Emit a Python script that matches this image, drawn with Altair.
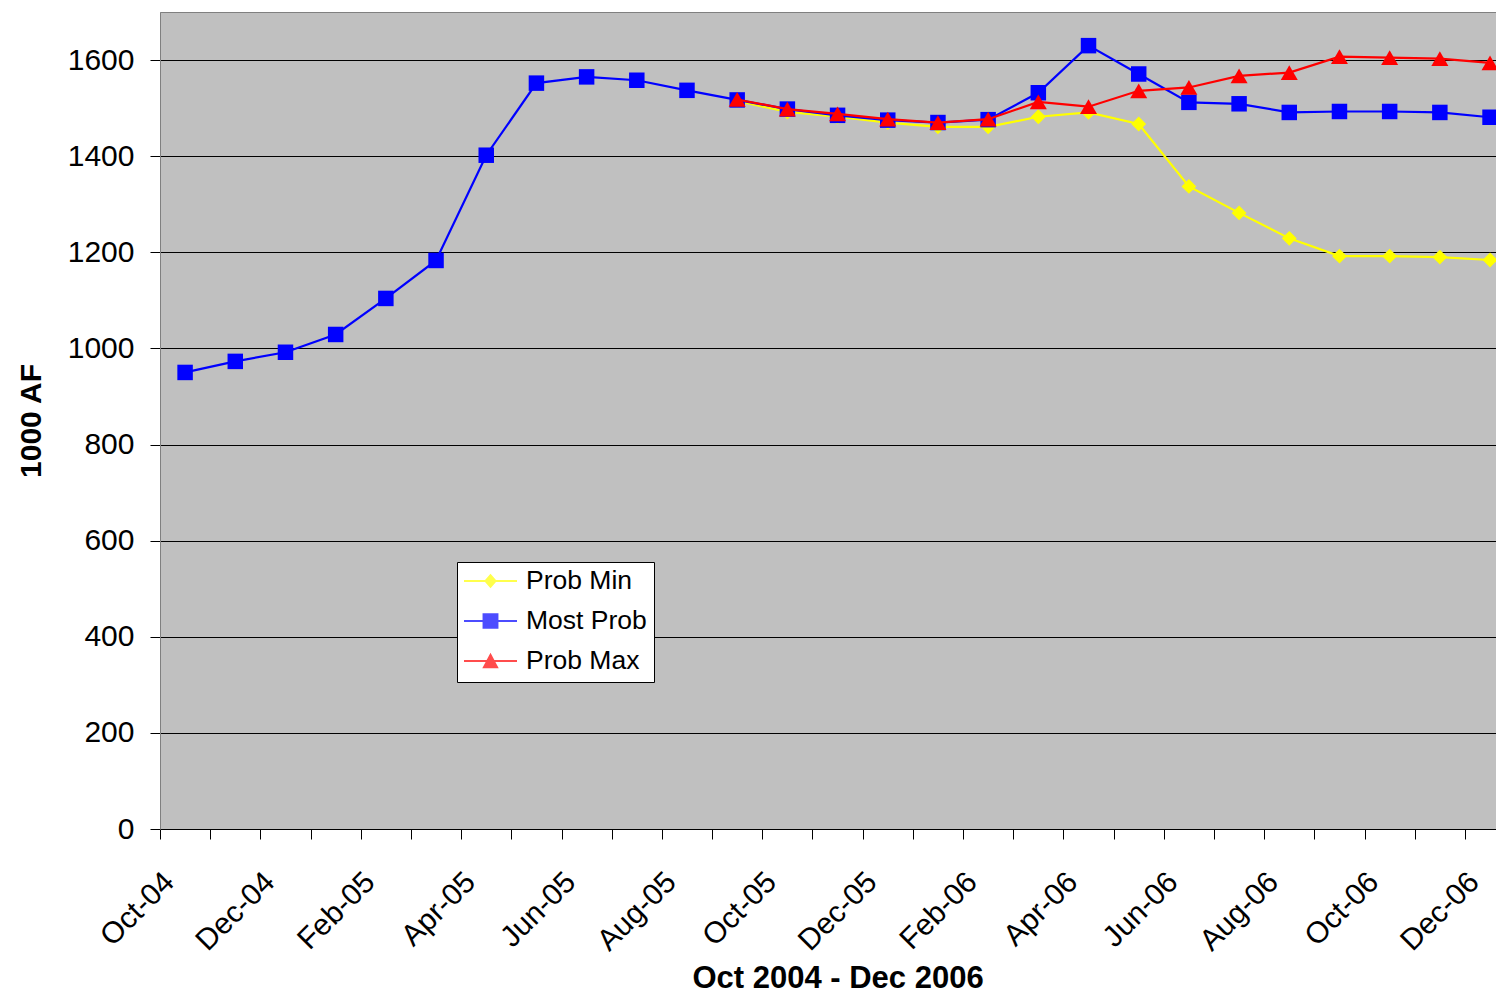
import json
import pandas as pd
import altair as alt

# months on the x axis (Oct 2004 - Dec 2006)
months = ['Oct-04', 'Nov-04', 'Dec-04', 'Jan-05', 'Feb-05', 'Mar-05', 'Apr-05',
          'May-05', 'Jun-05', 'Jul-05', 'Aug-05', 'Sep-05', 'Oct-05', 'Nov-05',
          'Dec-05', 'Jan-06', 'Feb-06', 'Mar-06', 'Apr-06', 'May-06', 'Jun-06',
          'Jul-06', 'Aug-06', 'Sep-06', 'Oct-06', 'Nov-06', 'Dec-06']

# storage, 1000 AF
most_prob = [950, 973, 992, 1029, 1104, 1183, 1402, 1552, 1565, 1558, 1537,
             1517, 1498, 1485, 1475, 1470, 1476, 1532, 1630, 1571, 1512,
             1509, 1491, 1493, 1493, 1491, 1481]
prob_min = [None] * 11 + [1515, 1492, 1482, 1470, 1461, 1461, 1482, 1491,
                          1467, 1337, 1282, 1229, 1192, 1192, 1190, 1184]
prob_max = [None] * 11 + [1518, 1498, 1488, 1477, 1470, 1477, 1513, 1503,
                          1536, 1543, 1567, 1574, 1607, 1605, 1603, 1594]

series_names = ['Prob Min', 'Most Prob', 'Prob Max']
series_colors = ['#FFFF00', '#0000FF', '#FF0000']
series_shapes = ['diamond', 'square', 'triangle-up']
shape_sizes = [220, 240, 290]

# legend symbols: a short line with the marker on it
legend_paths = [
    'M-1,-0.04L1,-0.04L1,0.04L-1,0.04Z M0,-0.27L0.24,0L0,0.27L-0.24,0Z',
    'M-1,-0.04L1,-0.04L1,0.04L-1,0.04Z M-0.3,-0.29L0.3,-0.29L0.3,0.29L-0.3,0.29Z',
    'M-1,-0.04L1,-0.04L1,0.04L-1,0.04Z M0,-0.31L0.31,0.27L-0.31,0.27Z',
]

rows = []
for name, vals in zip(series_names, [prob_min, most_prob, prob_max]):
    for i, (m, v) in enumerate(zip(months, vals)):
        if v is not None:
            rows.append({'month': m, 'pos': i + 0.5, 'series': name, 'value': v})
df = pd.DataFrame(rows)

FONT = 'Liberation Sans'
PLOT_W = 1336  # the page is only 1504 wide; the original plot runs past the edge
x_max = PLOT_W / 50.19

label_expr = "datum.value % 2 === 0 ? " + json.dumps(months) + "[datum.value] : ''"

x_enc = alt.X('pos:Q',
              scale=alt.Scale(domain=[0, x_max], nice=False, zero=False),
              axis=alt.Axis(values=list(range(27)), labelExpr=label_expr,
                            labelAngle=-45, labelAlign='right', labelBaseline='middle',
                            labelPadding=38, labelOffset=9, labelFlush=False,
                            labelOverlap=False, labelFontSize=30, tickSize=10,
                            tickColor='black', domainColor='black', grid=False,
                            title='Oct 2004 - Dec 2006', titleFontSize=31,
                            titleFontWeight='bold', titleX=677.5, titleY=158,
                            titleBaseline='alphabetic', titleAlign='center'))

y_enc = alt.Y('value:Q',
              scale=alt.Scale(domain=[0, 1700], nice=False),
              axis=alt.Axis(values=[0, 200, 400, 600, 800, 1000, 1200, 1400, 1600, 1700],
                            format='d',
                            labelExpr="datum.value == 1700 ? '' : datum.label",
                            labelFontSize=30, labelPadding=16, tickSize=10,
                            tickColor='black',
                            tickOpacity={"condition": {"test": "datum.value == 1700", "value": 0}, "value": 1},
                            gridColor={"condition": {"test": "datum.value == 1700", "value": "#808080"}, "value": "#000000"},
                            gridWidth=1, domainColor='#808080',
                            title='1000 AF', titleFontSize=30, titleFontWeight='bold',
                            titleAngle=-90, titleX=-120, titleY=408.5,
                            titleBaseline='alphabetic', titleAlign='center'))

layers = []
for name, col, shp, sz in zip(series_names, series_colors, series_shapes, shape_sizes):
    layers.append(
        alt.Chart(df).transform_filter(alt.datum.series == name).mark_line(
            color=col, strokeWidth=2.2,
            point=alt.OverlayMarkDef(shape=shp, size=sz, filled=True, color=col, opacity=1)
        ).encode(x=x_enc, y=y_enc)
    )

legend_opts = dict(orient='none', legendX=297, legendY=550, title=None,
                   fillColor='white', strokeColor='black', padding=7,
                   labelFontSize=26.5, labelOffset=9, symbolSize=2809,
                   symbolStrokeWidth=0, clipHeight=24, rowPadding=13)

# legend layer (draws nothing, only supplies the legend)
legend_layer = alt.Chart(df).transform_filter('datum.value < 0').mark_point(filled=True).encode(
    x=x_enc, y=y_enc,
    color=alt.Color('series:N', scale=alt.Scale(domain=series_names, range=series_colors),
                    legend=alt.Legend(**legend_opts)),
    shape=alt.Shape('series:N', scale=alt.Scale(domain=series_names, range=legend_paths),
                    legend=alt.Legend(**legend_opts)),
)

chart = alt.layer(*layers, legend_layer).properties(
    width=PLOT_W, height=817,
    autosize=alt.AutoSizeParams(type='none'),
    padding={'left': 152, 'top': 4, 'right': 0, 'bottom': 165},
    background='white',
).configure_view(
    fill='#C0C0C0', strokeWidth=0
).configure_axis(
    labelFont=FONT, titleFont=FONT, labelColor='black', titleColor='black'
).configure_legend(
    labelFont=FONT, labelColor='black'
)

chart.save('out.html', embed_options={'renderer': 'svg', 'actions': False})
